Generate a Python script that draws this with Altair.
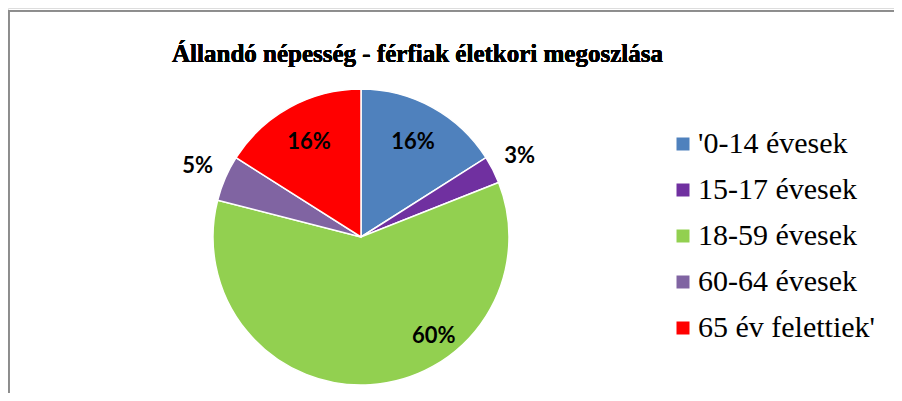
import altair as alt
import pandas as pd

categories = ["'0-14 évesek", "15-17 évesek", "18-59 évesek", "60-64 évesek", "65 év felettiek'"]
values = [16, 3, 60, 5, 16]
labels = ["16%", "3%", "60%", "5%", "16%"]
colors = ["#4F81BD", "#7030A0", "#92D050", "#8064A2", "#FF0000"]
title_text = "Állandó népesség - férfiak életkori megoszlása"

df = pd.DataFrame({"cat": categories, "val": values, "lab": labels, "idx": list(range(len(categories)))})

CX, CY, R = 353, 229, 148
SERIF = "Times New Roman, Liberation Serif, serif"

color = alt.Color(
    "cat:N",
    scale=alt.Scale(domain=categories, range=colors),
    sort=categories,
    legend=alt.Legend(
        title=None, orient="none", legendX=660, legendY=121,
        symbolType="square", symbolSize=169, symbolStrokeWidth=0,
        labelFont=SERIF, labelFontSize=30, labelColor="black",
        labelLimit=400, rowPadding=16, labelOffset=0, padding=0,
    ),
)

base = alt.Chart(df).encode(
    theta=alt.Theta("val:Q", stack=True),
    order=alt.Order("idx:Q", sort="ascending"),
    x=alt.value(CX),
    y=alt.value(CY),
)

pie = base.mark_arc(radius=R, stroke="white", strokeWidth=1.5).encode(color=color)

txt_kw = dict(font="Lato", fontWeight="bold", fontSize=22, color="black", align="center", baseline="middle")

inside = base.mark_text(radius=108, **txt_kw).encode(
    text="lab:N",
    opacity=alt.condition(alt.FieldOneOfPredicate(field="idx", oneOf=[0, 4]), alt.value(1), alt.value(0)),
)
green = base.mark_text(radius=108, dx=66, dy=-9, **txt_kw).encode(
    text="lab:N",
    opacity=alt.condition(alt.FieldOneOfPredicate(field="idx", oneOf=[2]), alt.value(1), alt.value(0)),
)
outside = base.mark_text(radius=178, **txt_kw).encode(
    text="lab:N",
    opacity=alt.condition(alt.FieldOneOfPredicate(field="idx", oneOf=[1, 3]), alt.value(1), alt.value(0)),
)

frame_left = alt.Chart(df).mark_rule(stroke="#8c8c8c", strokeWidth=1.5).encode(
    x=alt.value(0.75), y=alt.value(2), y2=alt.value(385)
)
frame_top = alt.Chart(df).mark_rule(stroke="#8c8c8c", strokeWidth=1.5).encode(
    x=alt.value(0), x2=alt.value(886), y=alt.value(2.75)
)

title = alt.Chart(df).mark_text(
    font=SERIF, fontWeight="bold", fontSize=25, color="black",
    align="center", baseline="alphabetic",
).encode(x=alt.value(409.5), y=alt.value(54), text=alt.value(title_text))

chart = alt.layer(frame_left, frame_top, pie, inside, green, outside, title).properties(
    width=886, height=385, padding=0, autosize=alt.AutoSizeParams(type="none")
).configure_view(strokeWidth=0, stroke="transparent").configure_legend(
    labelFont=SERIF
).configure(background="white")

chart.save("out.html", embed_options={"renderer": "svg", "actions": False})
